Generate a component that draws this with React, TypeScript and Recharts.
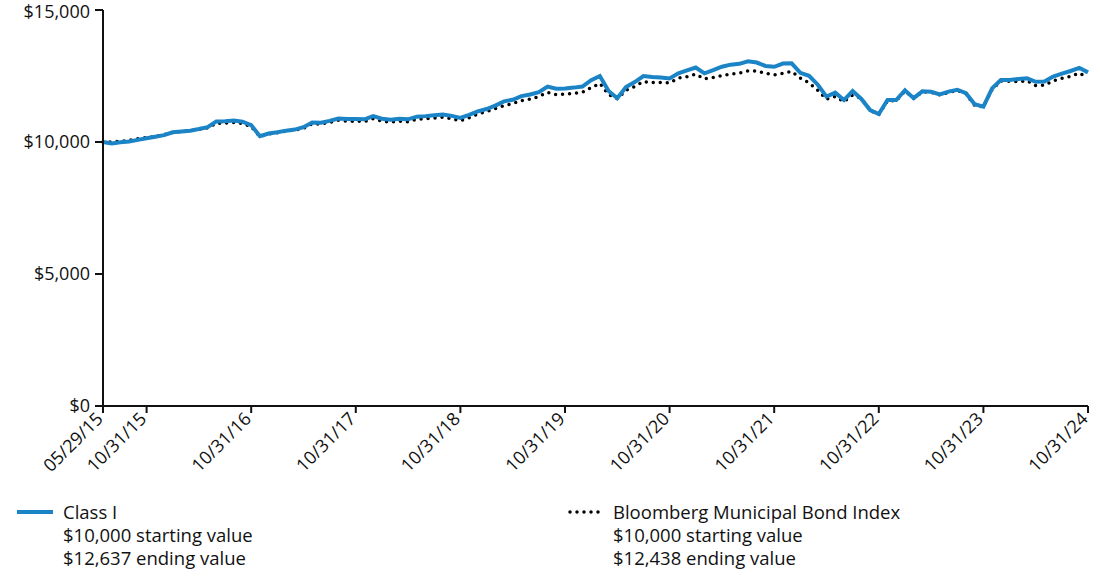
import { LineChart, Line, XAxis, YAxis } from "recharts";

// monthly values, May 2015 -> Oct 2024 (hypothetical $10,000 investment)
const classI = [
  10000, 9940, 9990, 10020, 10080, 10140, 10200, 10260, 10370, 10400, 10430, 10490,
  10560, 10780, 10790, 10810, 10770, 10640, 10220, 10320, 10370, 10430, 10470, 10560,
  10740, 10730, 10800, 10890, 10870, 10870, 10860, 10980, 10880, 10840, 10880, 10860,
  10960, 10980, 11010, 11040, 10990, 10910, 11030, 11160, 11250, 11380, 11540, 11600,
  11740, 11800, 11890, 12100, 12020, 12030, 12060, 12100, 12340, 12500, 11930, 11660,
  12080, 12270, 12500, 12460, 12440, 12410, 12600, 12710, 12820, 12600, 12720, 12850,
  12930, 12960, 13060, 13010, 12880, 12850, 12970, 12980, 12620, 12510, 12170, 11720,
  11870, 11590, 11930, 11630, 11210, 11060, 11590, 11590, 11960, 11660, 11920, 11900,
  11800, 11910, 11980, 11850, 11430, 11340, 12030, 12350, 12350, 12390, 12410, 12280,
  12290, 12480, 12590, 12690, 12810, 12637,
];

const bloomberg = [
  10000, 10000, 10030, 10060, 10120, 10170, 10210, 10280, 10370, 10400, 10430, 10480,
  10530, 10710, 10720, 10740, 10700, 10580, 10210, 10300, 10350, 10410, 10450, 10520,
  10690, 10680, 10740, 10820, 10790, 10790, 10780, 10880, 10790, 10750, 10790, 10770,
  10860, 10880, 10910, 10940, 10880, 10810, 10920, 11060, 11150, 11260, 11380, 11450,
  11570, 11620, 11720, 11880, 11790, 11810, 11840, 11880, 12060, 12220, 11790, 11640,
  11960, 12100, 12290, 12250, 12250, 12240, 12420, 12470, 12570, 12390, 12440, 12510,
  12570, 12610, 12690, 12690, 12600, 12540, 12600, 12670, 12420, 12240, 11960, 11620,
  11720, 11530, 11780, 11660, 11200, 11040, 11560, 11560, 11930, 11660, 11900, 11880,
  11780, 11880, 11950, 11830, 11380, 11330, 11990, 12310, 12300, 12290, 12320, 12140,
  12150, 12320, 12410, 12480, 12610, 12438,
];

const tickIdx = [0, 5, 17, 29, 41, 53, 65, 77, 89, 101, 113];
const tickLabels = [
  "05/29/15", "10/31/15", "10/31/16", "10/31/17", "10/31/18", "10/31/19",
  "10/31/20", "10/31/21", "10/31/22", "10/31/23", "10/31/24",
];
const yTicks = [0, 5000, 10000, 15000];

const BLUE = "#1a84c7";
const FONT = "'Open Sans', sans-serif";

const data = classI.map((v, i) => ({ i, classI: v, index: bloomberg[i] }));

function XTick({ x, y, payload }: any) {
  const k = tickIdx.indexOf(payload.value);
  return (
    <g transform={`translate(${x + 1},${y + 5})`}>
      <text
        x={0}
        y={0}
        textAnchor="end"
        transform="rotate(-45)"
        fontSize={18}
        fontFamily={FONT}
        fill="#111"
      >
        {tickLabels[k]}
      </text>
    </g>
  );
}

const money = (v: number) => "$" + v.toLocaleString("en-US");

// top label sits right at the page edge, keep it inside
function YTick({ x, y, payload }: any) {
  return (
    <text
      x={x}
      y={Math.max(y, 12)}
      dy="0.355em"
      textAnchor="end"
      fontSize={18}
      fontFamily={FONT}
      fill="#111"
    >
      {money(payload.value)}
    </text>
  );
}

function LegendItem({ left, dotted, lines }: { left: number; dotted?: boolean; lines: string[] }) {
  return (
    <div style={{ position: "absolute", left, top: 500, fontFamily: FONT, fontSize: 18.5, color: "#111", lineHeight: "23px" }}>
      <svg width={40} height={23} style={{ position: "absolute", left: 0, top: 0 }}>
        {dotted ? (
          <line x1={3} x2={38} y1={12} y2={12} stroke="#000" strokeWidth={3.5} strokeDasharray="0 7" strokeLinecap="round" />
        ) : (
          <line x1={0} x2={36} y1={12} y2={12} stroke={BLUE} strokeWidth={4} />
        )}
      </svg>
      <div style={{ marginLeft: 46 }}>
        {lines.map((t) => (
          <div key={t}>{t}</div>
        ))}
      </div>
    </div>
  );
}

export default function App() {
  return (
    <div style={{ position: "absolute", left: 0, top: 0, width: 1100, height: 578, background: "#fff" }}>
      <LineChart width={1100} height={480} data={data} margin={{ top: 10, right: 12, bottom: 14, left: 0 }}>
        <XAxis
          dataKey="i"
          type="number"
          domain={[0, 113]}
          ticks={tickIdx}
          interval={0}
          height={60}
          tick={<XTick />}
          tickSize={7}
          tickMargin={2}
          axisLine={{ stroke: "#111", strokeWidth: 2 }}
          tickLine={{ stroke: "#111", strokeWidth: 2 }}
        />
        <YAxis
          domain={[0, 15000]}
          ticks={yTicks}
          interval={0}
          width={103}
          tick={<YTick />}
          tickSize={8}
          tickMargin={5}
          axisLine={{ stroke: "#111", strokeWidth: 2 }}
          tickLine={{ stroke: "#111", strokeWidth: 2 }}
        />
        <Line
          type="linear"
          dataKey="index"
          stroke="#000"
          strokeWidth={3.5}
          strokeDasharray="0 7"
          strokeLinecap="round"
          dot={false}
          isAnimationActive={false}
        />
        <Line
          type="linear"
          dataKey="classI"
          stroke={BLUE}
          strokeWidth={4}
          dot={false}
          isAnimationActive={false}
        />
      </LineChart>
      <LegendItem left={17} lines={["Class I", "$10,000 starting value", "$12,637 ending value"]} />
      <LegendItem left={567} dotted lines={["Bloomberg Municipal Bond Index", "$10,000 starting value", "$12,438 ending value"]} />
    </div>
  );
}
